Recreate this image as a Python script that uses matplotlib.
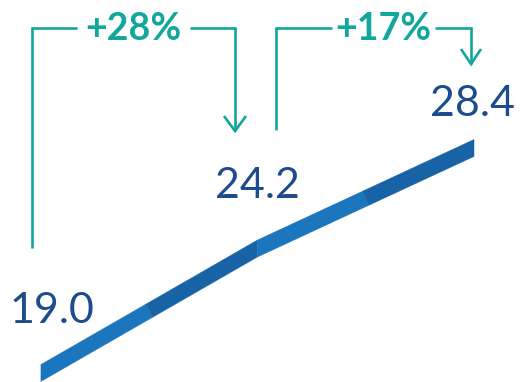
import matplotlib
matplotlib.use("Agg")
import matplotlib.pyplot as plt
import numpy as np

# data
categories = [0, 1, 2]
values = [19.0, 24.2, 28.4]
value_labels = ["19.0", "24.2", "28.4"]
growth_labels = ["+28%", "+17%"]

W, H = 521, 382
fig = plt.figure(figsize=(W / 100, H / 100), dpi=100)
ax = fig.add_axes([0, 0, 1, 1])
XL, YL = (-0.189, 2.217), (18.624, 34.58)
ax.set_xlim(*XL)
ax.set_ylim(*YL)
ax.axis("off")
sx = W / (XL[1] - XL[0])
sy = H / (YL[1] - YL[0])

light = "#1C76BD"
dark = "#1763A6"
half = 0.355  # vertical half thickness in data units

# ribbon made of half-interval pieces with alternating colours,
# the colour changes are cut perpendicular to the line
for i in range(len(categories) - 1):
    xa, xb = categories[i], categories[i + 1]
    ya, yb = values[i], values[i + 1]
    xm, ym = (xa + xb) / 2, (ya + yb) / 2
    k = (yb - ya) * sy / ((xb - xa) * sx)  # slope in pixels
    shift = half * sy * k / (k * k + 1) / sx  # x shift (data) of the cut
    top_m = (xm - shift, ym + half - k * shift * sx / sy * 1.0 + k * 0)
    # top edge point at x = xm - shift
    t_y = ya + (xm - shift - xa) * (yb - ya) / (xb - xa) + half
    b_y = ya + (xm + shift - xa) * (yb - ya) / (xb - xa) - half
    ax.fill([xa, xm + shift, xm - shift, xa],
            [ya - half, b_y, t_y, ya + half], color=light, lw=0.3, ec=light)
    ax.fill([xm + shift, xb, xb, xm - shift],
            [b_y, yb - half, yb + half, t_y], color=dark, lw=0.3, ec=dark)

navy = "#1C4C8C"
fam = ["Lato", "DejaVu Sans"]
offsets = [(0.05, 2.59), (0.0, 2.61), (-0.005, 1.84)]
for x, v, lab, (dx, dy) in zip(categories, values, value_labels, offsets):
    ax.text(x + dx, v + dy, lab, ha="center", va="center", fontsize=31,
            color=navy, family=fam, fontweight="normal")

teal = "#12A79D"
tr = ax.transAxes


def px(x, y):
    return x / W, 1 - y / H


def path(points, **kw):
    xs = [px(*p)[0] for p in points]
    ys = [px(*p)[1] for p in points]
    ax.plot(xs, ys, transform=tr, color=teal, lw=1.9, solid_joinstyle="miter",
            solid_capstyle="butt", **kw)


# bracket 1
path([(32, 248), (32, 28), (77, 28)])
path([(190, 28), (235, 28), (235, 131)])
path([(224, 116), (235, 131), (246, 116)])
ax.text(*px(133, 29), growth_labels[0], transform=tr, ha="center", va="center",
        fontsize=27, color=teal, family=fam, fontweight="bold")

# bracket 2
path([(276, 130), (276, 28), (332, 28)])
path([(435, 28), (471, 28), (471, 64)])
path([(461, 49), (471, 64), (481, 49)])
ax.text(*px(383, 29), growth_labels[1], transform=tr, ha="center", va="center",
        fontsize=27, color=teal, family=fam, fontweight="bold")

fig.savefig("out.png", dpi=100)
